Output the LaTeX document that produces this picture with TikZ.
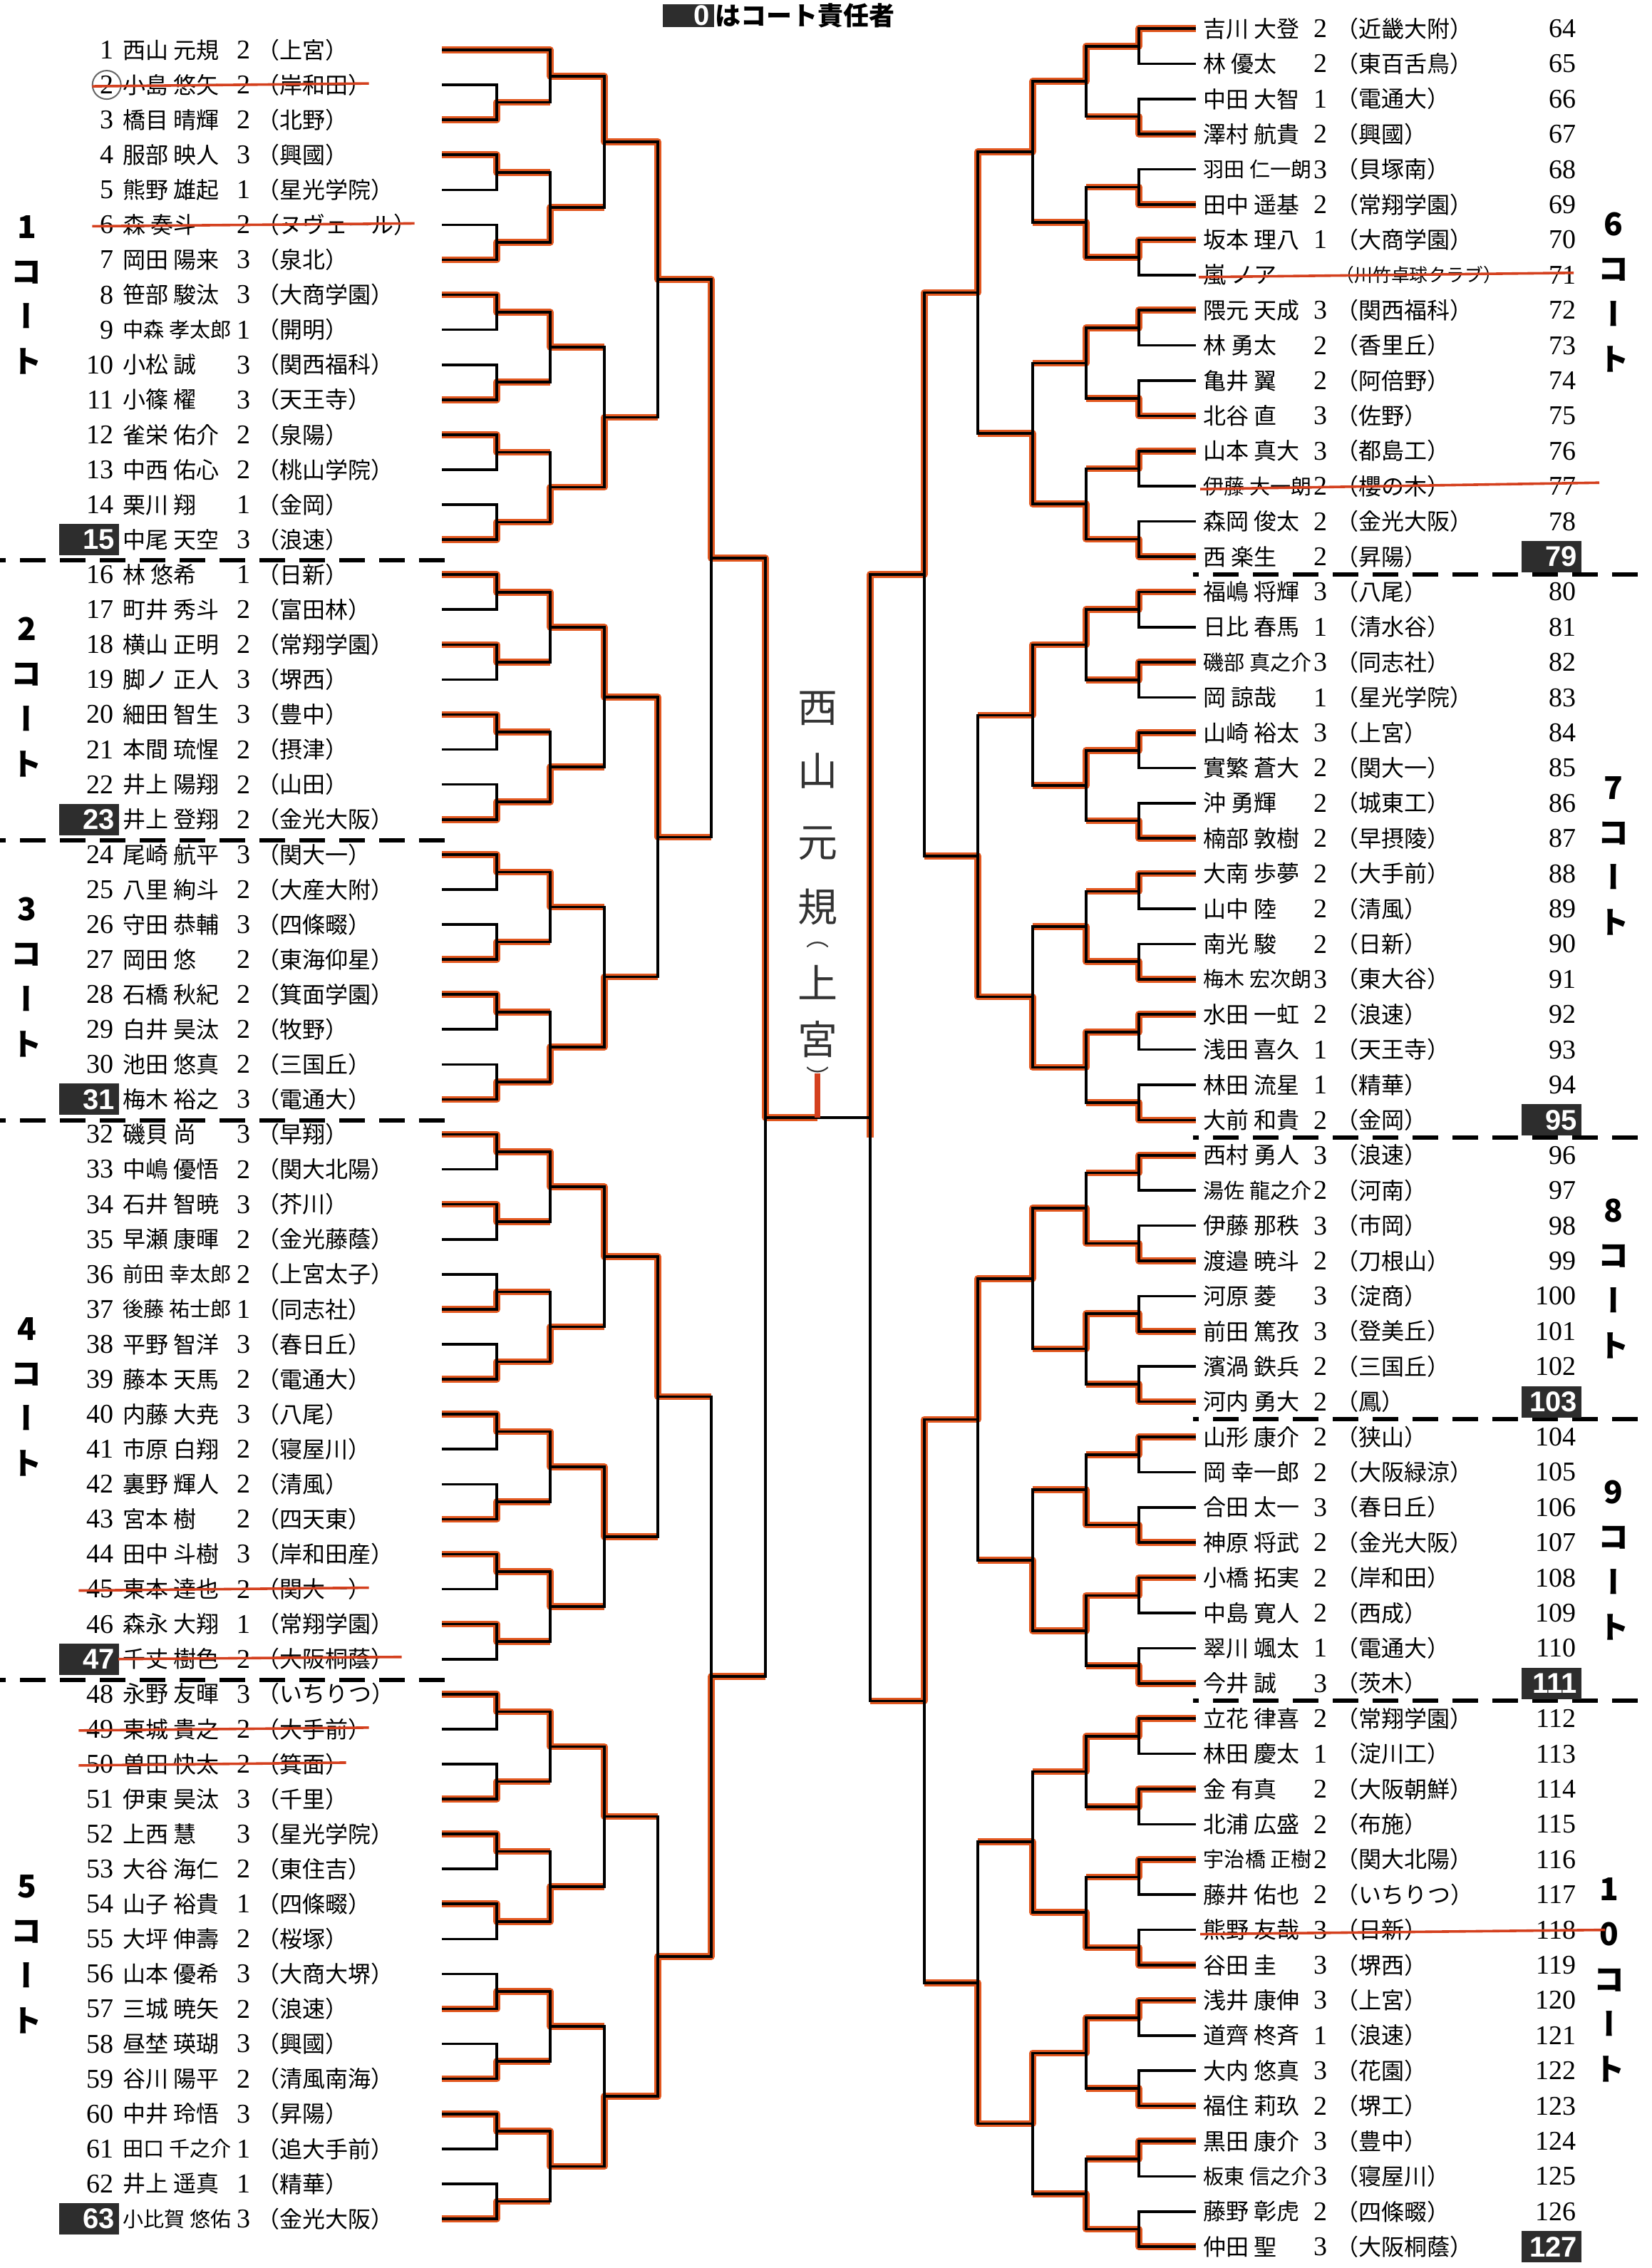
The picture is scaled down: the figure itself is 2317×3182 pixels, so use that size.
\documentclass[tikz,border=0pt]{standalone}
\usepackage{fontspec}
\usepackage{graphicx}
\setmainfont{Liberation Serif}
\setsansfont{Liberation Sans}
\newfontfamily\jp{Noto Sans CJK JP}
\newfontfamily\jpvert[RawFeature=+vert]{Noto Sans CJK JP}
\usetikzlibrary{calc}
\pgfdeclarelayer{background}
\pgfsetlayers{background,main}

\definecolor{inkred}{RGB}{212,64,30}
\definecolor{marker}{RGB}{226,88,32}
\definecolor{chiefgray}{RGB}{45,45,45}

% squeeze a text to a width when it is too long
\newcommand\fitto[2]{\sbox0{#2}\ifdim\wd0>#1\resizebox{#1}{!}{#2}\else\usebox0\fi}

% who went on, 0 = upper line, 1 = lower line (rounds 1..6 one after the other)
\def\winL{{0,1,0,1,0,1,0,1,0,0,0,1,0,1,0,1,0,0,1,1,0,1,0,0,0,1,0,0,1,1,0,1,
  0,1,0,1,0,1,0,1,0,1,0,0,0,1,0,0, 0,1,0,1,0,0,0,1, 0,0,0,1, 0,1, 0}}
\def\winR{{0,1,1,0,0,1,0,1,0,0,0,1,0,1,0,1,0,1,1,1,0,1,0,1,0,0,0,1,0,1,0,1,
  0,1,0,1,0,0,1,0,1,0,1,0,0,1,0,1, 0,1,0,1,0,1,1,0, 0,1,0,1, 0,0, 0}}

\tikzset{
  num/.style={anchor=east, inner sep=0pt, font=\fontsize{9.5}{10}\selectfont},
  chief/.style={num, fill=chiefgray, text=white, font=\sffamily\bfseries\fontsize{10}{10}\selectfont,
    text width=18pt, align=right, inner xsep=1.5pt, minimum height=11pt, xshift=2pt},
  pname/.style={anchor=west, inner sep=0pt, font=\jp\fontsize{8}{8}\selectfont},
  grade/.style={inner sep=0pt, font=\fontsize{9.5}{10}\selectfont},
  school/.style={anchor=west, inner sep=0pt, font=\jp\fontsize{8}{8}\selectfont},
  court/.style={inner sep=0pt, align=center, font=\jpvert\bfseries\fontsize{11}{15.8}\selectfont},
  bline/.style={line width=0.9pt},
  won/.style={marker, line width=2.4pt, line join=round},
  divider/.style={line width=1.3pt, dash pattern=on 9pt off 5pt, dash phase=7pt},
  strike/.style={inkred, line width=0.9pt},
  hand/.style={inner sep=0pt, font=\jpvert\fontsize{14}{14}\selectfont, text=black!80},
  handsmall/.style={hand, font=\jpvert\fontsize{8}{8}\selectfont},
}

\begin{document}
\begin{tikzpicture}[x=0.25pt, y=-0.25pt]
\useasboundingbox (0,0) rectangle (2317,3182);

% header
\node[chief, anchor=center, xshift=0pt, text width=15pt, minimum height=8pt] (h0) at (958,22) {0};
\node[anchor=west, inner sep=0pt, font=\jp\bfseries\fontsize{9}{9}\selectfont] (h1) at (1003,22) {はコート責任者};

% court dividers
\foreach \yy [count=\i] in {786,1179,1572,2357}
  \draw[divider] (0,\yy) coordinate (dl\i) -- (624,\yy);
\foreach \yy [count=\i] in {806,1596,1991,2386}
  \draw[divider] (1674,\yy) coordinate (dr\i) -- (2317,\yy);

% left half
\foreach \n/\nm/\g/\sc/\st in {
  1/西山 元規/2/上宮/num, 2/小島 悠矢/2/岸和田/num, 3/橋目 晴輝/2/北野/num,
  4/服部 映人/3/興國/num, 5/熊野 雄起/1/星光学院/num, 6/森 奏斗/2/ヌヴェール/num,
  7/岡田 陽来/3/泉北/num, 8/笹部 駿汰/3/大商学園/num, 9/中森 孝太郎/1/開明/num,
  10/小松 誠/3/関西福科/num, 11/小篠 櫂/3/天王寺/num, 12/雀栄 佑介/2/泉陽/num,
  13/中西 佑心/2/桃山学院/num, 14/栗川 翔/1/金岡/num, 15/中尾 天空/3/浪速/chief,
  16/林 悠希/1/日新/num, 17/町井 秀斗/2/富田林/num, 18/横山 正明/2/常翔学園/num,
  19/脚ノ 正人/3/堺西/num, 20/細田 智生/3/豊中/num, 21/本間 琉惺/2/摂津/num,
  22/井上 陽翔/2/山田/num, 23/井上 登翔/2/金光大阪/chief,
  24/尾崎 航平/3/関大一/num, 25/八里 絢斗/2/大産大附/num, 26/守田 恭輔/3/四條畷/num,
  27/岡田 悠/2/東海仰星/num, 28/石橋 秋紀/2/箕面学園/num, 29/白井 昊汰/2/牧野/num,
  30/池田 悠真/2/三国丘/num, 31/梅木 裕之/3/電通大/chief,
  32/磯貝 尚/3/早翔/num, 33/中嶋 優悟/2/関大北陽/num, 34/石井 智暁/3/芥川/num,
  35/早瀬 康暉/2/金光藤蔭/num, 36/前田 幸太郎/2/上宮太子/num, 37/後藤 祐士郎/1/同志社/num,
  38/平野 智洋/3/春日丘/num, 39/藤本 天馬/2/電通大/num, 40/内藤 大尭/3/八尾/num,
  41/市原 白翔/2/寝屋川/num, 42/裏野 輝人/2/清風/num, 43/宮本 樹/2/四天東/num,
  44/田中 斗樹/3/岸和田産/num, 45/東本 達也/2/関大一/num, 46/森永 大翔/1/常翔学園/num,
  47/千丈 樹色/2/大阪桐蔭/chief,
  48/永野 友暉/3/いちりつ/num, 49/東城 貴之/2/大手前/num, 50/曽田 快太/2/箕面/num,
  51/伊東 昊汰/3/千里/num, 52/上西 慧/3/星光学院/num, 53/大谷 海仁/2/東住吉/num,
  54/山子 裕貴/1/四條畷/num, 55/大坪 伸壽/2/桜塚/num, 56/山本 優希/3/大商大堺/num,
  57/三城 暁矢/2/浪速/num, 58/昼埜 瑛瑚/3/興國/num, 59/谷川 陽平/2/清風南海/num,
  60/中井 玲悟/3/昇陽/num, 61/田口 千之介/1/追大手前/num, 62/井上 遥真/1/精華/num,
  63/小比賀 悠佑/3/金光大阪/chief}{
  \pgfmathsetmacro\yy{70+(\n-1)*49.08}
  \node[\st] (n\n) at (160,\yy) {\n};
  \node[pname] (m\n) at (172,\yy) {\fitto{38pt}{\nm}};
  \node[grade] (g\n) at (342,\yy) {\g};
  \node[school] (s\n) at (360,\yy) {\fitto{58pt}{（\sc）}};
  \coordinate (p\n) at (620,\yy);
}

% right half
\foreach \n/\nm/\g/\sc/\st in {
  64/吉川 大登/2/近畿大附/num, 65/林 優太/2/東百舌鳥/num, 66/中田 大智/1/電通大/num,
  67/澤村 航貴/2/興國/num, 68/羽田 仁一朗/3/貝塚南/num, 69/田中 遥基/2/常翔学園/num,
  70/坂本 理八/1/大商学園/num, 71/嵐 ノア//川竹卓球クラブ/num, 72/隈元 天成/3/関西福科/num,
  73/林 勇太/2/香里丘/num, 74/亀井 翼/2/阿倍野/num, 75/北谷 直/3/佐野/num,
  76/山本 真大/3/都島工/num, 77/伊藤 大一朗/2/櫻の木/num, 78/森岡 俊太/2/金光大阪/num,
  79/西 楽生/2/昇陽/chief,
  80/福嶋 将輝/3/八尾/num, 81/日比 春馬/1/清水谷/num, 82/磯部 真之介/3/同志社/num,
  83/岡 諒哉/1/星光学院/num, 84/山崎 裕太/3/上宮/num, 85/實繁 蒼大/2/関大一/num,
  86/沖 勇輝/2/城東工/num, 87/楠部 敦樹/2/早摂陵/num, 88/大南 歩夢/2/大手前/num,
  89/山中 陸/2/清風/num, 90/南光 駿/2/日新/num, 91/梅木 宏次朗/3/東大谷/num,
  92/水田 一虹/2/浪速/num, 93/浅田 喜久/1/天王寺/num, 94/林田 流星/1/精華/num,
  95/大前 和貴/2/金岡/chief,
  96/西村 勇人/3/浪速/num, 97/湯佐 龍之介/2/河南/num, 98/伊藤 那秩/3/市岡/num,
  99/渡邉 暁斗/2/刀根山/num, 100/河原 菱/3/淀商/num, 101/前田 篤孜/3/登美丘/num,
  102/濱渦 鉄兵/2/三国丘/num, 103/河内 勇大/2/鳳/chief,
  104/山形 康介/2/狭山/num, 105/岡 幸一郎/2/大阪緑涼/num, 106/合田 太一/3/春日丘/num,
  107/神原 将武/2/金光大阪/num, 108/小橋 拓実/2/岸和田/num, 109/中島 寛人/2/西成/num,
  110/翠川 颯太/1/電通大/num, 111/今井 誠/3/茨木/chief,
  112/立花 律喜/2/常翔学園/num, 113/林田 慶太/1/淀川工/num, 114/金 有真/2/大阪朝鮮/num,
  115/北浦 広盛/2/布施/num, 116/宇治橋 正樹/2/関大北陽/num, 117/藤井 佑也/2/いちりつ/num,
  118/熊野 友哉/3/日新/num, 119/谷田 圭/3/堺西/num, 120/浅井 康伸/3/上宮/num,
  121/道齊 柊斉/1/浪速/num, 122/大内 悠真/3/花園/num, 123/福住 莉玖/2/堺工/num,
  124/黒田 康介/3/豊中/num, 125/板東 信之介/3/寝屋川/num, 126/藤野 彰虎/2/四條畷/num,
  127/仲田 聖/3/大阪桐蔭/chief}{
  \pgfmathsetmacro\yy{40+(\n-64)*49.4}
  \node[\st] (n\n) at (2212,\yy) {\n};
  \node[pname] (m\n) at (1688,\yy) {\fitto{38pt}{\nm}};
  \node[grade] (g\n) at (1853,\yy) {\g};
  \node[school] (s\n) at (1874,\yy) {\fitto{58pt}{（\sc）}};
  \coordinate (p\n) at (1678,\yy);
}

% court labels
\foreach \lab/\xx/\yy [count=\i] in {1\\コ\\ー\\ト/38/414, 2\\コ\\ー\\ト/38/978,
    3\\コ\\ー\\ト/38/1371, 4\\コ\\ー\\ト/38/1960, 5\\コ\\ー\\ト/38/2742,
    6\\コ\\ー\\ト/2264/410, 7\\コ\\ー\\ト/2264/1201, 8\\コ\\ー\\ト/2264/1794,
    9\\コ\\ー\\ト/2264/2189, 1\\0\\コ\\ー\\ト/2258/2778}
  \node[court] (k\i) at (\xx,\yy) {\lab};

% bracket columns
\foreach \cx [count=\r] in {697,772,848,923,998,1074,1147} \coordinate (lc\r) at (\cx,0);
\foreach \cx [count=\r] in {1598,1524,1449,1372,1297,1221,1221} \coordinate (rc\r) at (\cx,0);

% first round (1 has a bye)
\coordinate (l1-0) at (p1);
\foreach \m in {1,...,31}{
  \pgfmathtruncatemacro\ia{2*\m}
  \pgfmathtruncatemacro\ib{2*\m+1}
  \pgfmathtruncatemacro\iw{2*\m+\winL[\m]}
  \coordinate (t) at ($(p\ia)!0.5!(p\ib)$);
  \coordinate (l1-\m) at (t -| lc1);
  \draw[bline] (p\ia) -| (l1-\m) |- (p\ib);
  \begin{pgfonlayer}{background}
    \draw[won] (p\iw) -| (l1-\m) -- (l1-\m -| lc2);
  \end{pgfonlayer}
}
\foreach \m in {0,...,31}{
  \pgfmathtruncatemacro\ia{64+2*\m}
  \pgfmathtruncatemacro\ib{65+2*\m}
  \pgfmathtruncatemacro\iw{64+2*\m+\winR[\m]}
  \coordinate (t) at ($(p\ia)!0.5!(p\ib)$);
  \coordinate (r1-\m) at (t -| rc1);
  \draw[bline] (p\ia) -| (r1-\m) |- (p\ib);
  \begin{pgfonlayer}{background}
    \draw[won] (p\iw) -| (r1-\m) -- (r1-\m -| rc2);
  \end{pgfonlayer}
}

% later rounds
\foreach \r in {2,...,6}{
  \pgfmathtruncatemacro\q{\r-1}
  \pgfmathtruncatemacro\s{\r+1}
  \pgfmathtruncatemacro\off{64-2^(7-\r)}
  \pgfmathtruncatemacro\mx{2^(6-\r)-1}
  \foreach \m in {0,...,\mx}{
    \pgfmathtruncatemacro\ia{2*\m}
    \pgfmathtruncatemacro\ib{2*\m+1}
    \pgfmathtruncatemacro\k{\off+\m}
    \pgfmathtruncatemacro\wl{2*\m+\winL[\k]}
    \pgfmathtruncatemacro\wr{2*\m+\winR[\k]}
    \coordinate (t) at ($(l\q-\ia)!0.5!(l\q-\ib)$);
    \coordinate (l\r-\m) at (t -| lc\r);
    \draw[bline] (l\q-\ia) -| (l\r-\m) |- (l\q-\ib);
    \coordinate (t) at ($(r\q-\ia)!0.5!(r\q-\ib)$);
    \coordinate (r\r-\m) at (t -| rc\r);
    \draw[bline] (r\q-\ia) -| (r\r-\m) |- (r\q-\ib);
    \begin{pgfonlayer}{background}
      \draw[won] (l\q-\wl) -| (l\r-\m) -- (l\r-\m -| lc\s);
      \draw[won] (r\q-\wr) -| (r\r-\m) -- (r\r-\m -| rc\s);
    \end{pgfonlayer}
  }
}

% final
\draw[bline] (l6-0) -- (l6-0 -| r6-0);

% winner, written by hand
\foreach \c/\yy/\st [count=\i] in {西/994/hand, 山/1081/hand, 元/1183/hand, 規/1272/hand,
    （/1326/handsmall, 上/1378/hand, 宮/1458/hand, ）/1510/handsmall}
  \node[\st] (w\i) at (1147,\yy) {\c};
\coordinate (fin) at (w1 |- l6-0);
\draw[inkred, line width=2pt] (fin) -- ++(0,-62);

% withdrawn players
\draw[black!60, line width=0.5pt] (n2) circle [radius=20];
\foreach \k in {2,6,45,49,50}
  \draw[strike] ($(n\k.west)+(-10,2)$) -- ($(s\k.east)+(-4,-2)$);
\draw[strike] ($(m47.west)+(-6,0)$) -- ($(s47.east)+(10,-3)$);
\draw[strike] ($(m71.west)+(-6,3)$) -- ($(n71.east)+(-4,-3)$);
\draw[strike] ($(m77.west)+(-4,4)$) -- ($(n77.east)+(32,-5)$);
\draw[strike] ($(m118.west)+(-4,6)$) -- ($(n118.east)+(40,0)$);
\end{tikzpicture}
\end{document}
